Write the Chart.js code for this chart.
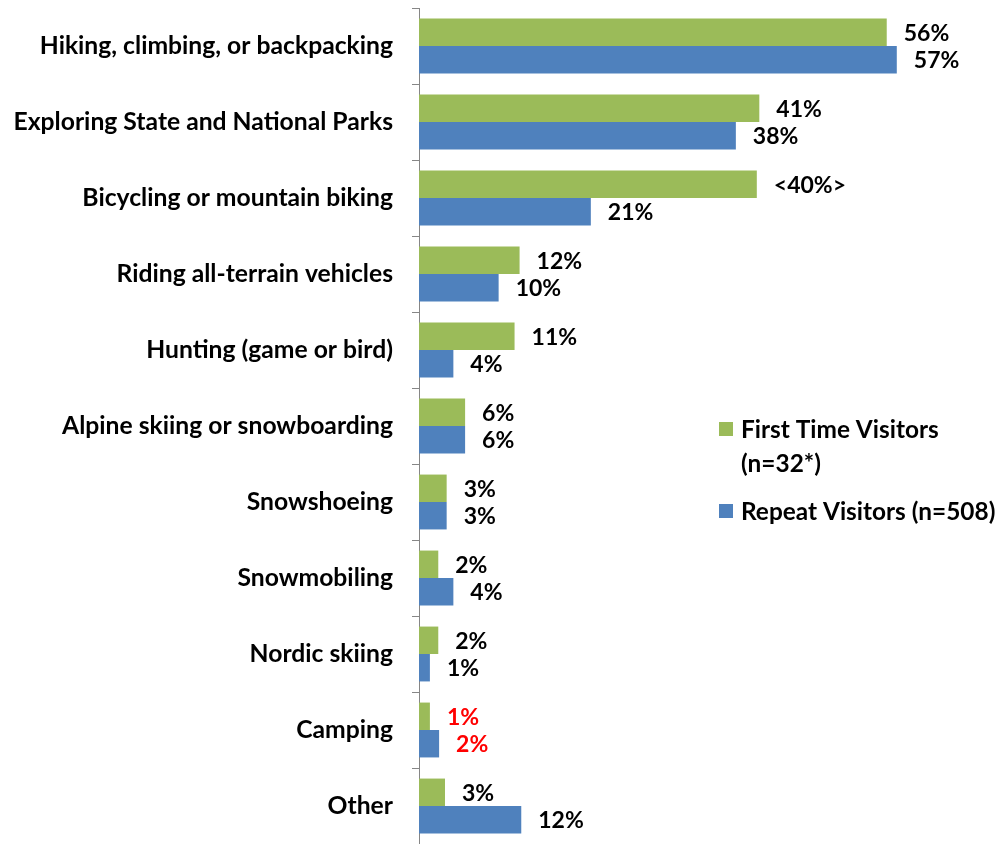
<!DOCTYPE html>
<html>
<head>
<meta charset="utf-8">
<script src="https://cdn.jsdelivr.net/npm/chart.js@4/dist/chart.umd.min.js"></script>
<style>
    html, body { margin: 0; padding: 0; background: #fff; }
</style>
</head>
<body>
<canvas id="activityChart" width="998" height="844"></canvas>
<script>
const categories = [
    'Hiking, climbing, or backpacking',
    'Exploring State and National Parks',
    'Bicycling or mountain biking',
    'Riding all-terrain vehicles',
    'Hunting (game or bird)',
    'Alpine skiing or snowboarding',
    'Snowshoeing',
    'Snowmobiling',
    'Nordic skiing',
    'Camping',
    'Other'
];

const firstTimeValues = [55.8, 40.6, 40.3, 12.0, 11.4, 5.5, 3.3, 2.3, 2.3, 1.3, 3.1];
const repeatValues    = [57.0, 37.8, 20.5, 9.5, 4.1, 5.5, 3.3, 4.1, 1.3, 2.4, 12.2];

// étiquettes affichées à côté des barres
const firstTimeLabels = ['56%', '41%', '<40%>', '12%', '11%', '6%', '3%', '2%', '2%', '1%', '3%'];
const repeatLabels    = ['57%', '38%', '21%', '10%', '4%', '6%', '3%', '4%', '1%', '2%', '12%'];
const labelColors     = ['#000', '#000', '#000', '#000', '#000', '#000', '#000', '#000', '#000', '#ff0000', '#000'];

const seriesNames = ['First Time Visitors (n=32*)', 'Repeat Visitors (n=508)'];
const legendLines = [['First Time Visitors', '(n=32*)'], ['Repeat Visitors (n=508)']];

const FONT = 'Lato, "Open Sans", sans-serif';

const valueLabels = {
    id: 'valueLabels',
    afterDatasetsDraw(chart) {
        const ctx = chart.ctx;
        const texts = [firstTimeLabels, repeatLabels];
        ctx.save();
        ctx.font = 'bold 23px ' + FONT;
        ctx.textAlign = 'left';
        ctx.textBaseline = 'middle';
        chart.data.datasets.forEach((ds, di) => {
            chart.getDatasetMeta(di).data.forEach((bar, i) => {
                ctx.fillStyle = labelColors[i];
                ctx.fillText(texts[di][i], bar.x + 17, bar.y + 1);
            });
        });
        ctx.restore();
    }
};

const sideLegend = {
    id: 'sideLegend',
    afterDraw(chart) {
        const ctx = chart.ctx;
        const rows = [[429, 463], [511]];
        ctx.save();
        ctx.font = 'bold 24.4px ' + FONT;
        ctx.textAlign = 'left';
        ctx.textBaseline = 'middle';
        chart.data.datasets.forEach((ds, di) => {
            ctx.fillStyle = ds.backgroundColor;
            ctx.fillRect(719, rows[di][0] - 7, 14, 14);
            ctx.fillStyle = '#000';
            legendLines[di].forEach((line, li) => {
                ctx.fillText(line, 741, rows[di][li] + 1);
            });
        });
        ctx.restore();
    }
};

function draw() {
    const ctx = document.getElementById('activityChart').getContext('2d');
    new Chart(ctx, {
        type: 'bar',
        data: {
            labels: categories,
            datasets: [
                {
                    label: seriesNames[0],
                    data: firstTimeValues,
                    backgroundColor: '#9bbb59',
                    categoryPercentage: 0.722,
                    barPercentage: 1.0
                },
                {
                    label: seriesNames[1],
                    data: repeatValues,
                    backgroundColor: '#4f81bd',
                    categoryPercentage: 0.722,
                    barPercentage: 1.0
                }
            ]
        },
        options: {
            indexAxis: 'y',
            responsive: false,
            animation: false,
            layout: { padding: { top: 8, bottom: -2, left: 0, right: 9 } },
            plugins: {
                legend: { display: false },
                tooltip: { enabled: false }
            },
            scales: {
                x: { display: false, min: 0, max: 68 },
                y: {
                    grid: { drawOnChartArea: false, drawTicks: true, tickLength: 7, color: '#868686', offset: true },
                    border: { display: true, color: '#868686', width: 1 },
                    ticks: { color: '#000', font: { family: FONT, weight: 'bold', size: 24.7 }, padding: 19 },
                    afterFit: (scale) => {
                        // largeur fixe de l'axe et pas de marge verticale ajoutée par les libellés
                        scale.width = 419;
                        scale.paddingTop = 0;
                        scale.paddingBottom = 0;
                    }
                }
            }
        },
        plugins: [valueLabels, sideLegend]
    });
}

document.fonts.load('bold 22px Lato').then(draw, draw);
</script>
</body>
</html>
